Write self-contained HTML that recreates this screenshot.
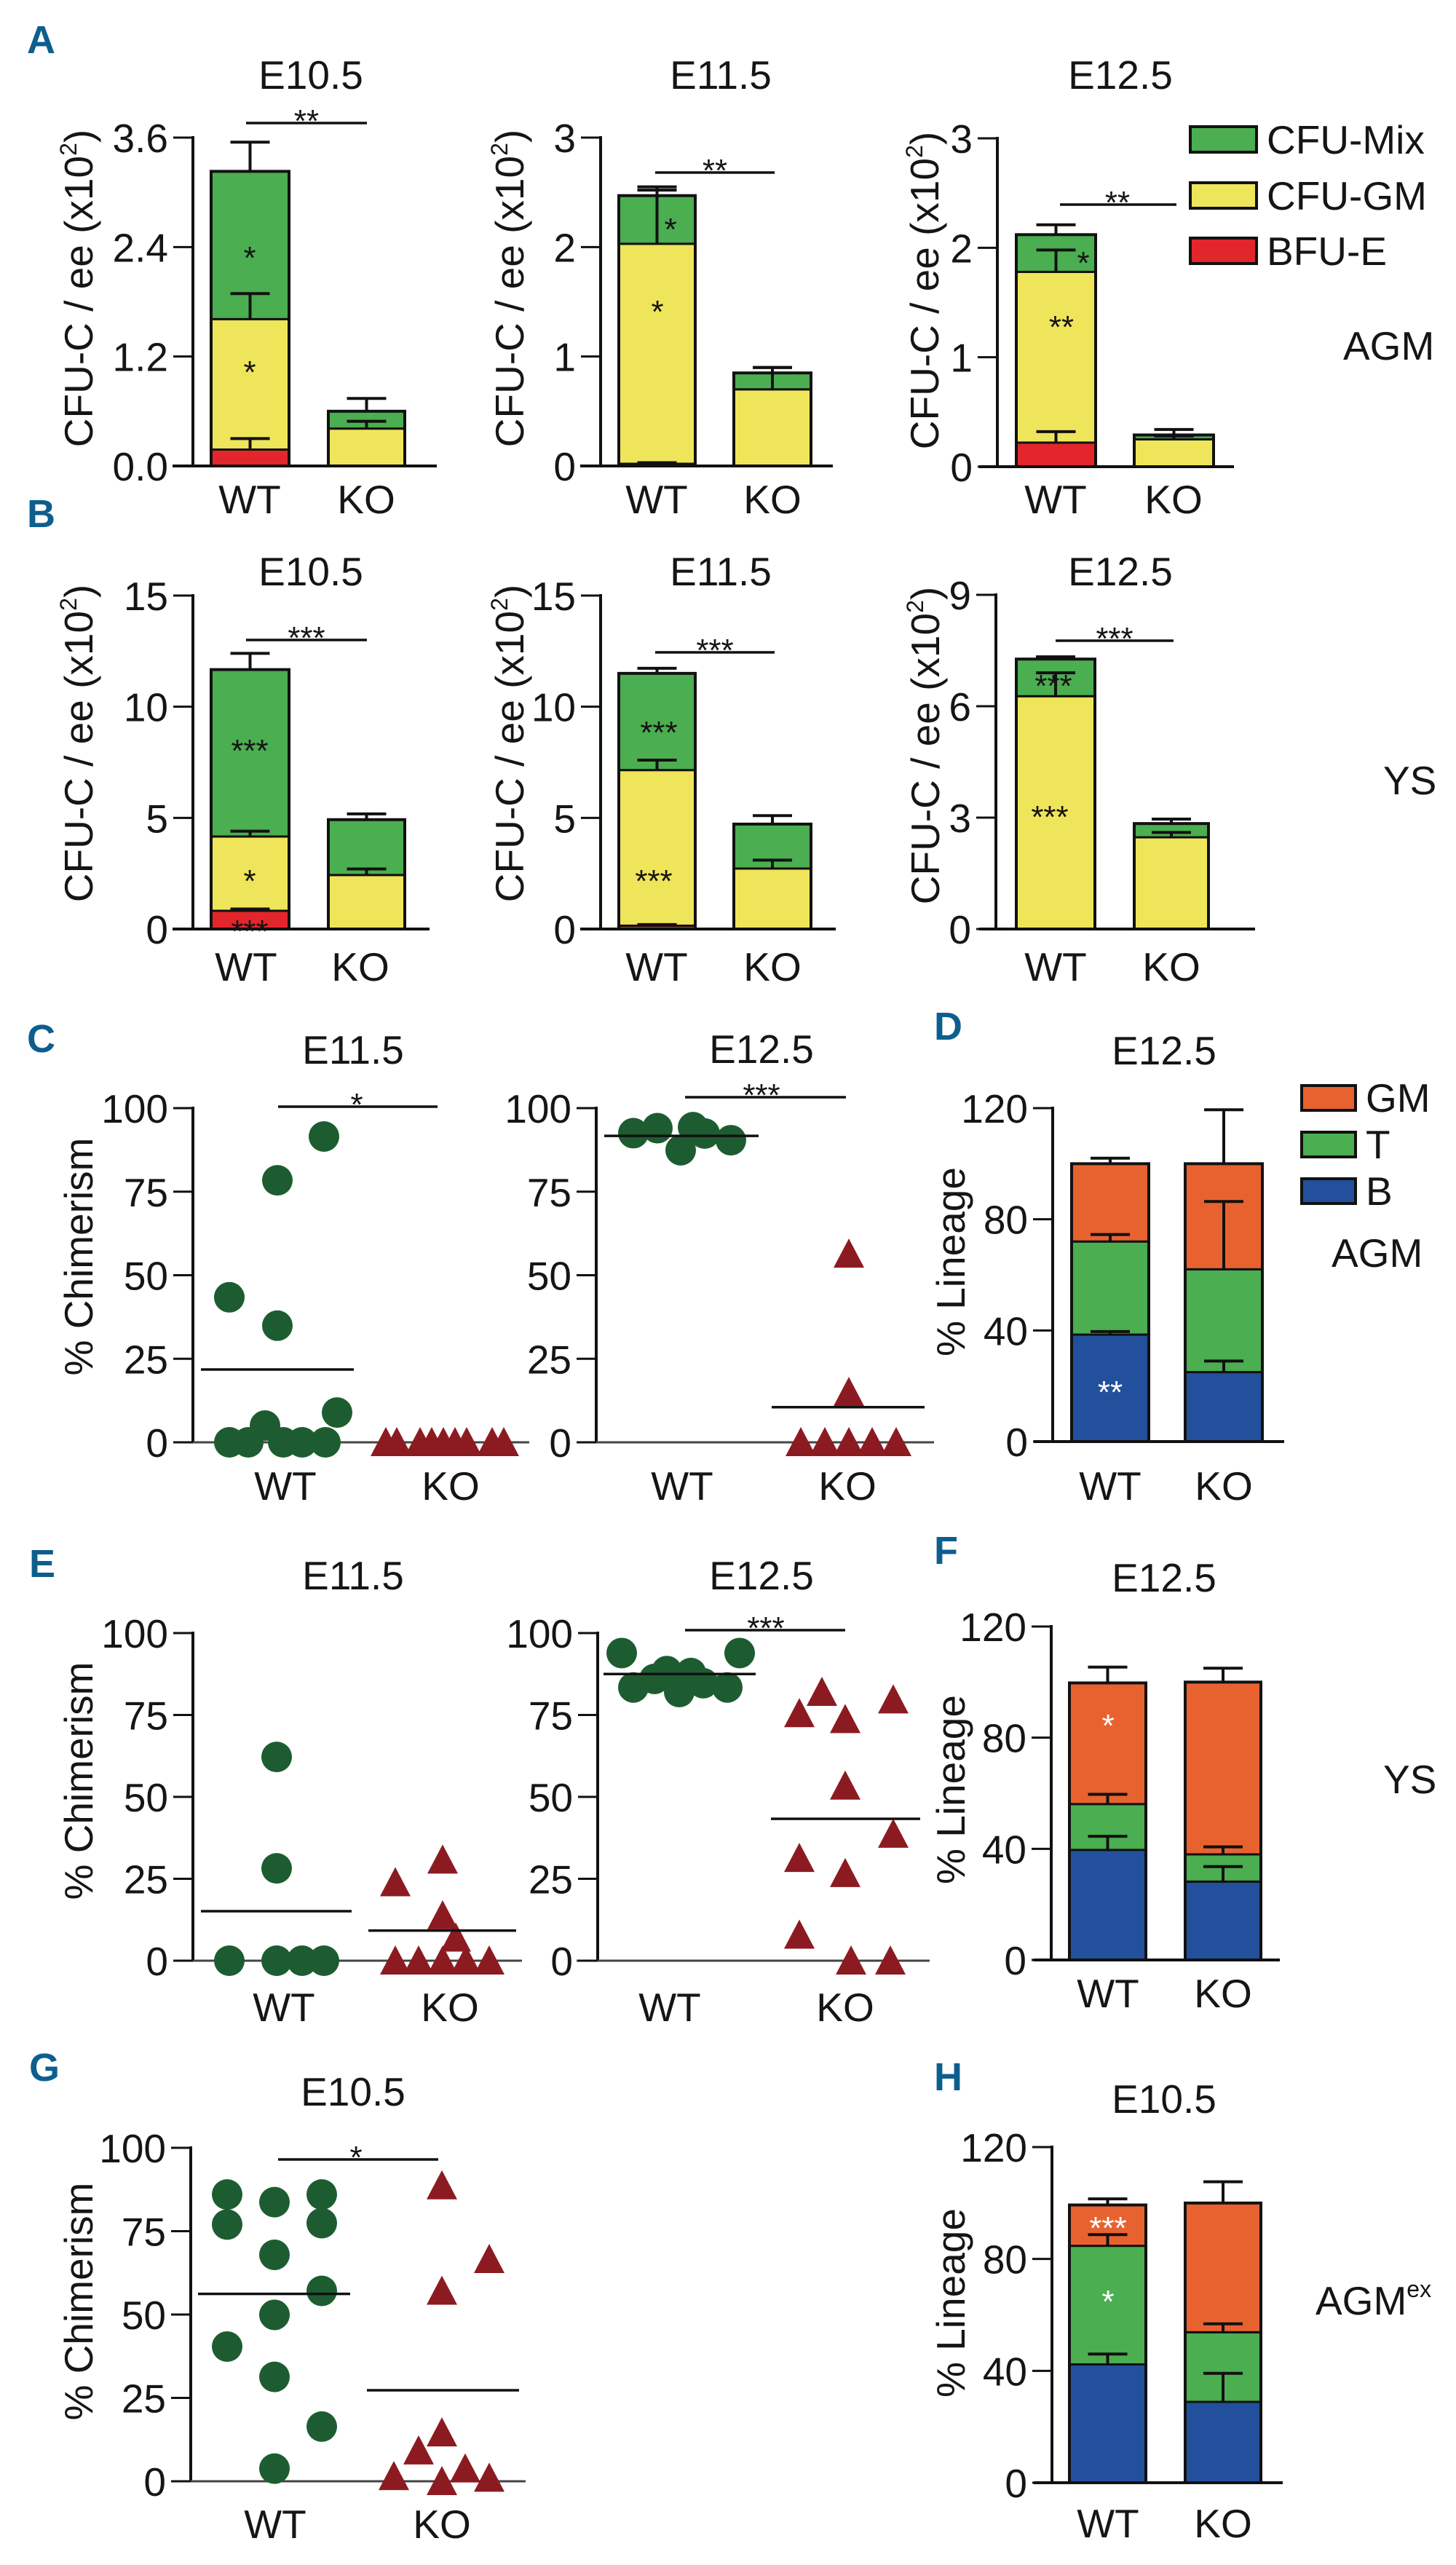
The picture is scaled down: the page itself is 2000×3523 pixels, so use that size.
<!DOCTYPE html>
<html><head><meta charset="utf-8"><title>CFU-C and chimerism figure</title>
<style>
html,body{margin:0;padding:0;background:#fff;}
svg{display:block;}
text{font-family:"Liberation Sans",sans-serif;fill:#151515;}
.lt{font-family:"Liberation Sans Narrow","Liberation Sans",sans-serif;font-weight:bold;fill:#0d5e8e;}
</style></head>
<body>
<svg id="fig" xmlns="http://www.w3.org/2000/svg" width="2000" height="3523" viewBox="0 0 2000 3523"></svg>
<script>
// ---------- DATA (cumulative stacked tops and error-bar ends) ----------
const cfuTicksA1=[0,1.2,2.4,3.6];
const cfuTickLabelsA1=['0.0','1.2','2.4','3.6'];
const cfuTicks3=[0,1,2,3];
const cfuTickLabels3=['0','1','2','3'];
const cfuTicks15=[0,5,10,15];
const cfuTickLabels15=['0','5','10','15'];
const cfuTicks9=[0,3,6,9];
const cfuTickLabels9=['0','3','6','9'];
const chimTicks=[0,25,50,75,100];
const chimTickLabels=['0','25','50','75','100'];
const linTicks=[0,40,80,120];
const linTickLabels=['0','40','80','120'];
const cfuSeries=['BFU-E','CFU-GM','CFU-Mix'];
const linSeries=['B','T','GM'];

const a1WT=[0.18,1.61,3.23]; const a1WTErr=[0.30,1.89,3.55];
const a1KO=[0,0.41,0.60];    const a1KOErr=[0,0.49,0.74];
const a2WT=[0.02,2.03,2.47]; const a2WTErr=[0.03,2.52,2.55];
const a2KO=[0,0.70,0.85];    const a2KOErr=[0,0.90,0.90];
const a3WT=[0.22,1.78,2.12]; const a3WTErr=[0.32,1.98,2.21];
const a3KO=[0,0.25,0.29];    const a3KOErr=[0,0.28,0.34];
const b1WT=[0.82,4.16,11.67]; const b1WTErr=[0.9,4.4,12.4];
const b1KO=[0,2.43,4.92];     const b1KOErr=[0,2.7,5.18];
const b2WT=[0.15,7.15,11.5];  const b2WTErr=[0.2,7.6,11.73];
const b2KO=[0,2.72,4.72];     const b2KOErr=[0,3.1,5.1];
const b3WT=[0,6.27,7.27];     const b3WTErr=[0,6.9,7.33];
const b3KO=[0,2.47,2.84];     const b3KOErr=[0,2.6,2.96];
const dWT=[38.5,72,100]; const dWTErr=[39.6,74.5,102];
const dKO=[25,62,100];   const dKOErr=[29,86.4,119.4];
const fWT=[39.6,56.1,99.7]; const fWTErr=[44.5,59.6,105.4];
const fKO=[28.2,38,100];    const fKOErr=[33.6,40.7,105];
const hWT=[42.3,84.7,99.3]; const hWTErr=[46,88.7,101.5];
const hKO=[28.9,53.8,100];  const hKOErr=[39.1,56.8,107.6];

const c1WT=[43.4,78.4,91.5,34.9,8.9,0,0,5,0,0,0]; const c1WTMean=21.8;
const c1KO=[0,0,0,0,0,0,0,0,0]; const c1KOMean=0;
const c2WT=[92.5,94,87.4,94.3,92.4,90.4]; const c2WTMean=91.7;
const c2KO=[56.4,15,0,0,0,0,0]; const c2KOMean=10.5;
const e1WT=[62.2,28.2,0,0,0,0]; const e1WTMean=15.1;
const e1KO=[23.9,30.8,13.8,7,0,0,0,0,0]; const e1KOMean=9.2;
const e2WT=[93.9,93.9,83.4,86,88.4,82,87.8,84.7,83.4]; const e2WTMean=87.5;
const e2KO=[75.5,82,73.7,79.7,53.4,38.7,31.3,26.7,7.9,0,0]; const e2KOMean=43.3;
const gWT=[86,77,40.4,83.7,67.9,49.9,31.3,3.8,86,77.4,57.1,16.4]; const gWTMean=56.2;
const gKO=[88.7,66.6,57.1,14.6,9.2,1.5,0,3.8,1]; const gKOMean=27.3;

// ---------- LAYOUT (jitter offsets in px, not data) ----------
const c1WTJit=[-77,-11,53,-11,71,-77,-51,-28,-3,23,55];
const c1KOJit=[-89,-74,-42,-26,-10,6,22,57,73];
const c2WTJit=[-67,-34,-2,15,31,67];
const c2KOJit=[2,2,-64,-31,2,34,67];
const e1WTJit=[-10,-10,-75,-10,25,55];
const e1KOJit=[-75,-10,-10,8,-75,-43,-10,22,54];
const e2WTJit=[-66,96,-50,-21,-4,13,29,46,79];
const e2KOJit=[-63,-32,0,66,0,66,-63,0,-63,8,62];
const gWTJit=[-66,-66,-66,-1,-1,-1,-1,-1,64,64,64,64];
const gKOJit=[0,65,0,0,-32,-66,0,32,65];

const CFU_COL=['#e2262c','#efe55a','#4bae50'];
const LIN_COL=['#23509c','#4bae50','#e8622f'];
const NS='http://www.w3.org/2000/svg';
const svg=document.getElementById('fig');
function mk(tag,attrs){const e=document.createElementNS(NS,tag);for(const k in attrs)e.setAttribute(k,attrs[k]);svg.appendChild(e);return e;}
function T(x,y,s,size,anchor,fill){const e=mk('text',{x:x,y:y,'font-size':size,'text-anchor':anchor||'middle'});if(fill)e.setAttribute('style','fill:'+fill);e.textContent=s;return e;}
function ys(ch,v){return ch.y0-v/ch.max*(ch.y0-ch.yTop);}

function axes(ch,ticks,labels,nm){
  const ax=mk('line',{x1:ch.ax,y1:ch.y0,x2:ch.ax,y2:ys(ch,ch.max)-2,stroke:'#111','stroke-width':4});
  
  
  const xa=mk('line',{x1:ch.xs,y1:ch.y0,x2:ch.xe,y2:ch.y0,stroke:ch.scatter?'#444':'#111','stroke-width':ch.scatter?3:4});
  
  
  ticks.forEach((t,i)=>{
    const y=ys(ch,t);
    const tl=mk('line',{x1:ch.ax-27,y1:y,x2:ch.ax,y2:y,stroke:'#111','stroke-width':3});
    
    
    const lb=T(ch.ax-34,y+20,labels[i],55,'end');
    
    
  });
}
function stack(ch,x,w,tops,errs,cols,nm){
  let prev=0;
  tops.forEach((t,i)=>{
    if(t>prev){
      const r=mk('rect',{x:x,y:ys(ch,t),width:w,height:ys(ch,prev)-ys(ch,t),fill:cols[i],stroke:'#111','stroke-width':3});
      
      
      prev=t;
    }
  });
  const o=mk('rect',{x:x,y:ys(ch,tops[tops.length-1]),width:w,height:ch.y0-ys(ch,tops[tops.length-1]),fill:'none',stroke:'#111','stroke-width':4});
  
  
  const cx=x+w/2;
  tops.forEach((t,i)=>{
    if(errs[i]>t){
      const v=mk('line',{x1:cx,y1:ys(ch,t),x2:cx,y2:ys(ch,errs[i]),stroke:'#111','stroke-width':4});
      
      
      const c=mk('line',{x1:cx-27,y1:ys(ch,errs[i]),x2:cx+27,y2:ys(ch,errs[i]),stroke:'#111','stroke-width':4});
      
      
    }
  });
}
function scatter(ch,cx,vals,jit,mean,shape,meanL,meanR,nm){
  vals.forEach((v,i)=>{
    const x=cx+jit[i],y=ys(ch,v);
    let p;
    if(shape==='c'){p=mk('circle',{cx:x,cy:y,r:21,fill:'#1d5c31'});}
    else{p=mk('polygon',{points:(x-21)+','+(y+19)+' '+(x+21)+','+(y+19)+' '+x+','+(y-21),fill:'#8c1b21'});}
    
    
  });
  if(meanL!==null){
    const m=mk('line',{x1:meanL,y1:ys(ch,mean),x2:meanR,y2:ys(ch,mean),stroke:'#111','stroke-width':3.5});
    
    
  }
}
function stat(x1,x2,y,s,sx){
  const l=mk('line',{x1:x1,y1:y,x2:x2,y2:y,stroke:'#111','stroke-width':3.5});
  
  
  const t=T(sx,y+12,s,44);
  
  
}
function star(x,cy,s,fill){const t=T(x,cy+25,s,44,'middle',fill);}
function title(x,y,s){const t=T(x,y,s,55);}
function cats(y,xw,xk){const a=T(xw,y,'WT',55);const b=T(xk,y,'KO',55);}
function ylab(x,y,s,sup){const t=mk('text',{x:0,y:0,'font-size':55,'text-anchor':'middle',transform:'translate('+x+','+y+') rotate(-90)'});t.textContent=s;if(sup){const ts=document.createElementNS(NS,'tspan');ts.setAttribute('font-size',32);ts.setAttribute('dy',-22);ts.textContent='2';t.appendChild(ts);const t2=document.createElementNS(NS,'tspan');t2.setAttribute('dy',22);t2.textContent=')';t.appendChild(t2);}}
function letter(x,y,s){const t=mk('text',{x:x,y:y,'font-size':54,class:'lt'});t.textContent=s;}
function side(x,y,s,sup){const t=T(x,y,s,55,'start');if(sup){const ts=document.createElementNS(NS,'tspan');ts.setAttribute('font-size',32);ts.setAttribute('dy',-24);ts.textContent=sup;t.appendChild(ts);}}
function legend(x,ys0,cols,names,tx,h){
  names.forEach((n,i)=>{
    const r=mk('rect',{x:x,y:ys0[i],width:tx-x-14,height:h,fill:cols[i],stroke:'#111','stroke-width':4});
    
    
    const t=T(tx,ys0[i]+h+2,n,55,'start');
    
    
  });
}

// ---------- PANEL LETTERS ----------
letter(37,73,'A');letter(37,724,'B');letter(37,1445,'C');letter(1283,1428,'D');
letter(40,2166,'E');letter(1283,2148,'F');letter(40,2858,'G');letter(1283,2871,'H');

// ---------- A ----------
const A1={ax:265,y0:640,yTop:189,max:3.6,xs:237,xe:600};
axes(A1,cfuTicksA1,cfuTickLabelsA1,'a1');
stack(A1,290,107,a1WT,a1WTErr,CFU_COL,'a1-wt');stack(A1,451,105,a1KO,a1KOErr,CFU_COL,'a1-ko');
title(427,122,'E10.5');stat(338,504,169,'**',421);
star(343,344,'*');star(343,501,'*');
cats(705,343,503);ylab(127,396,'CFU-C / ee (x10',true);

const A2={ax:825,y0:640,yTop:189,max:3,xs:797,xe:1144};
axes(A2,cfuTicks3,cfuTickLabels3,'a2');
stack(A2,850,105,a2WT,a2WTErr,CFU_COL,'a2-wt');stack(A2,1008,106,a2KO,a2KOErr,CFU_COL,'a2-ko');
title(990,122,'E11.5');stat(900,1064,237,'**',982);
star(921,305,'*');star(903,418,'*');
cats(705,902,1061);ylab(719,396,'CFU-C / ee (x10',true);

const A3={ax:1370,y0:641,yTop:190,max:3,xs:1345,xe:1695};
axes(A3,cfuTicks3,cfuTickLabels3,'a3');
stack(A3,1396,109,a3WT,a3WTErr,CFU_COL,'a3-wt');stack(A3,1558,109,a3KO,a3KOErr,CFU_COL,'a3-ko');
title(1539,122,'E12.5');stat(1456,1616,281,'**',1535);
star(1488,351,'*');star(1458,439,'**');
cats(705,1450,1612);ylab(1289,399,'CFU-C / ee (x10',true);
legend(1635,[174,251,327],[CFU_COL[2],CFU_COL[1],CFU_COL[0]],['CFU-Mix','CFU-GM','BFU-E'],1740,35);
side(1845,494,'AGM');

// ---------- B ----------
const B1={ax:265,y0:1276,yTop:818,max:15,xs:237,xe:590};
axes(B1,cfuTicks15,cfuTickLabels15,'b1');
stack(B1,290,107,b1WT,b1WTErr,CFU_COL,'b1-wt');stack(B1,451,105,b1KO,b1KOErr,CFU_COL,'b1-ko');
title(427,804,'E10.5');stat(338,504,879,'***',421);
star(343,1021,'***');star(343,1200,'*');star(343,1269,'***');
cats(1347,338,495);ylab(127,1021,'CFU-C / ee (x10',true);

const B2={ax:825,y0:1276,yTop:818,max:15,xs:797,xe:1148};
axes(B2,cfuTicks15,cfuTickLabels15,'b2');
stack(B2,850,105,b2WT,b2WTErr,CFU_COL,'b2-wt');stack(B2,1008,106,b2KO,b2KOErr,CFU_COL,'b2-ko');
title(990,804,'E11.5');stat(900,1064,896,'***',982);
star(905,996,'***');star(898,1200,'***');
cats(1347,902,1061);ylab(719,1021,'CFU-C / ee (x10',true);

const B3={ax:1368,y0:1276,yTop:817,max:9,xs:1345,xe:1724};
axes(B3,cfuTicks9,cfuTickLabels9,'b3');
stack(B3,1396,108,b3WT,b3WTErr,CFU_COL,'b3-wt');stack(B3,1558,102,b3KO,b3KOErr,CFU_COL,'b3-ko');
title(1539,804,'E12.5');stat(1450,1612,880,'***',1531);
star(1447,932,'***');star(1442,1112,'***');
cats(1347,1450,1609);ylab(1290,1024,'CFU-C / ee (x10',true);
side(1900,1091,'YS');

// ---------- C ----------
const C1={ax:265,y0:1981,yTop:1522,max:100,xs:239,xe:727,scatter:true};
axes(C1,chimTicks,chimTickLabels,'c1');
scatter(C1,392,c1WT,c1WTJit,c1WTMean,'c',276,486,'c1-wt');
scatter(C1,619,c1KO,c1KOJit,c1KOMean,'t',null,null,'c1-ko');
title(485,1461,'E11.5');stat(382,601,1520,'*',490);
cats(2060,392,619);ylab(127,1726,'% Chimerism',false);

const C2={ax:819,y0:1981,yTop:1522,max:100,xs:794,xe:1283,scatter:true};
axes(C2,chimTicks,chimTickLabels,'c2');
scatter(C2,937,c2WT,c2WTJit,c2WTMean,'c',830,1042,'c2-wt');
scatter(C2,1164,c2KO,c2KOJit,c2KOMean,'t',1060,1270,'c2-ko');
title(1046,1460,'E12.5');stat(941,1162,1507,'***',1046);
cats(2060,937,1164);

// ---------- D ----------
const D={ax:1446,y0:1980,yTop:1522,max:120,xs:1420,xe:1764};
axes(D,linTicks,linTickLabels,'d');
stack(D,1472,106,dWT,dWTErr,LIN_COL,'d-wt');stack(D,1628,106,dKO,dKOErr,LIN_COL,'d-ko');
title(1599,1462,'E12.5');star(1525,1902,'**','#fff');
cats(2060,1525,1681);ylab(1325,1733,'% Lineage',false);
legend(1788,[1491,1555,1619],[LIN_COL[2],LIN_COL[1],LIN_COL[0]],['GM','T','B'],1876,34);
side(1829,1740,'AGM');

// ---------- E ----------
const E1={ax:265,y0:2693,yTop:2243,max:100,xs:240,xe:717,scatter:true};
axes(E1,chimTicks,chimTickLabels,'e1');
scatter(E1,390,e1WT,e1WTJit,e1WTMean,'c',276,483,'e1-wt');
scatter(E1,618,e1KO,e1KOJit,e1KOMean,'t',506,709,'e1-ko');
title(485,2183,'E11.5');
cats(2776,390,618);ylab(127,2446,'% Chimerism',false);

const E2={ax:821,y0:2693,yTop:2243,max:100,xs:792,xe:1277,scatter:true};
axes(E2,chimTicks,chimTickLabels,'e2');
scatter(E2,920,e2WT,e2WTJit,e2WTMean,'c',829,1038,'e2-wt');
scatter(E2,1161,e2KO,e2KOJit,e2KOMean,'t',1059,1264,'e2-ko');
title(1046,2183,'E12.5');stat(941,1161,2239,'***',1052);
cats(2776,920,1161);

// ---------- F ----------
const F={ax:1444,y0:2692,yTop:2234,max:120,xs:1420,xe:1758};
axes(F,linTicks,linTickLabels,'f');
stack(F,1469,105,fWT,fWTErr,LIN_COL,'f-wt');stack(F,1628,104,fKO,fKOErr,LIN_COL,'f-ko');
title(1599,2186,'E12.5');star(1522,2360,'*','#fff');
cats(2757,1522,1680);ylab(1325,2458,'% Lineage',false);
side(1900,2463,'YS');

// ---------- G ----------
const G={ax:262,y0:3408,yTop:2950,max:100,xs:237,xe:722,scatter:true};
axes(G,chimTicks,chimTickLabels,'g');
scatter(G,378,gWT,gWTJit,gWTMean,'c',272,481,'g-wt');
scatter(G,607,gKO,gKOJit,gKOMean,'t',504,713,'g-ko');
title(485,2892,'E10.5');stat(382,602,2966,'*',489);
cats(3486,378,607);ylab(127,3161,'% Chimerism',false);

// ---------- H ----------
const H={ax:1445,y0:3410,yTop:2949,max:120,xs:1420,xe:1762};
axes(H,linTicks,linTickLabels,'h');
stack(H,1469,105,hWT,hWTErr,LIN_COL,'h-wt');stack(H,1628,104,hKO,hKOErr,LIN_COL,'h-ko');
title(1599,2902,'E10.5');star(1522,3050,'***','#fff');star(1522,3151,'*','#fff');
cats(3485,1522,1680);ylab(1325,3163,'% Lineage',false);
side(1807,3179,'AGM','ex');
</script>
</body></html>
